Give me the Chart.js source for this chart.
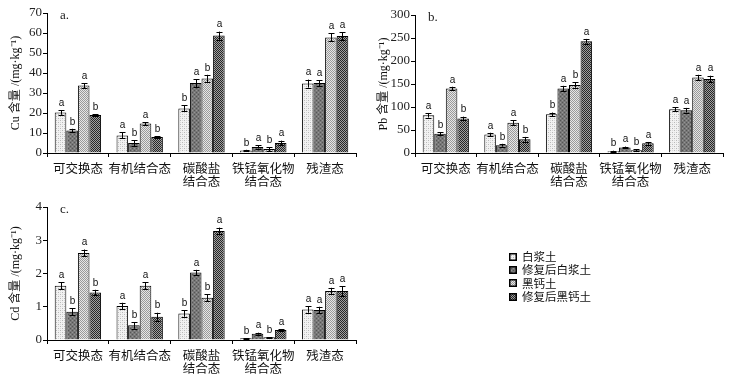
<!DOCTYPE html>
<html><head><meta charset="utf-8">
<script src="https://cdn.jsdelivr.net/npm/chart.js@4.4.1/dist/chart.umd.min.js"></script>
<style>
body{margin:0;background:#fff;width:739px;height:379px;position:relative;overflow:hidden}
canvas.p{position:absolute}
#legend{position:absolute;left:509px;top:250px;font:11.5px "Noto Sans CJK SC";color:#111;line-height:13.3px}
#legend div{display:flex;align-items:center;height:13.3px}
#legend canvas{width:8px;height:8px;margin-right:5px}
</style></head><body>
<canvas class="p" id="ca" width="362" height="190" style="left:0;top:0"></canvas>
<canvas class="p" id="cb" width="362" height="190" style="left:368px;top:0"></canvas>
<canvas class="p" id="cc" width="362" height="189" style="left:0;top:190px"></canvas>
<div id="legend"></div>
<script>
// ---- data ----
const categories = ['可交换态', '有机结合态', ['碳酸盐', '结合态'], ['铁锰氧化物', '结合态'], '残渣态'];
const seriesNames = ['白浆土', '修复后白浆土', '黑钙土', '修复后黑钙土'];

const cuValues = [
  [20.3, 8.8, 22.3, 1.3, 34.7],
  [11.3, 5.0, 35.0, 3.0, 35.0],
  [33.7, 14.7, 37.3, 2.0, 57.8],
  [19.0, 8.0, 58.7, 5.0, 58.5]
];
const cuErrors = [
  [1.2, 1.5, 1.5, 0.3, 2.0],
  [0.8, 1.5, 2.0, 0.8, 1.5],
  [1.2, 0.8, 1.8, 1.0, 2.0],
  [0.5, 0.4, 2.0, 1.2, 2.0]
];
const pbValues = [
  [82, 40, 84, 4, 95],
  [42, 17, 140, 12, 93],
  [140, 66, 148, 6, 164],
  [75, 30, 243, 21, 161]
];
const pbErrors = [
  [5, 4, 4, 1, 4],
  [3, 3, 6, 2, 5],
  [4, 5, 6, 2, 6],
  [4, 5, 5, 3, 7]
];
const cdValues = [
  [1.63, 1.02, 0.80, 0.05, 0.92],
  [0.85, 0.44, 2.03, 0.19, 0.90],
  [2.62, 1.63, 1.27, 0.08, 1.47],
  [1.43, 0.70, 3.28, 0.30, 1.47]
];
const cdErrors = [
  [0.10, 0.10, 0.10, 0.01, 0.10],
  [0.10, 0.10, 0.08, 0.03, 0.10],
  [0.10, 0.10, 0.10, 0.01, 0.10],
  [0.08, 0.12, 0.10, 0.02, 0.15]
];
const sigLetters = [
  ['a', 'a', 'b', 'b', 'a'],
  ['b', 'b', 'a', 'a', 'a'],
  ['a', 'a', 'b', 'b', 'a'],
  ['b', 'b', 'a', 'a', 'a']
];
const cuTicks = {max: 70, step: 10};
const pbTicks = {max: 300, step: 50};
const cdTicks = {max: 4, step: 1};

// ---- patterns ----
function makePattern(draw) {
  const c = document.createElement('canvas'); c.width = 4; c.height = 4;
  const x = c.getContext('2d'); draw(x);
  return x.createPattern(c, 'repeat');
}
function px(x, col, pts){ x.fillStyle = col; pts.forEach(p => x.fillRect(p[0], p[1], 1, 1)); }
const checker = [[0,0],[1,1],[2,2],[3,3],[2,0],[0,2],[3,1],[1,3]];
const fills = [
  makePattern(x => { x.fillStyle = '#f2f2f2'; x.fillRect(0,0,4,4); px(x,'#b8b8b8',[[0,0],[2,2]]); px(x,'#d8d8d8',[[2,0],[0,2]]); }),
  makePattern(x => { x.fillStyle = '#777'; x.fillRect(0,0,4,4); px(x,'#555',[[0,0],[2,2]]); px(x,'#959595',[[2,0],[0,2]]); }),
  makePattern(x => { x.fillStyle = '#e6e6e6'; x.fillRect(0,0,4,4); px(x,'#9a9a9a',checker); }),
  makePattern(x => { x.fillStyle = '#a0a0a0'; x.fillRect(0,0,4,4); px(x,'#262626',checker); })
];

// ---- plugins ----
const errPlugin = {
  id: 'errbars',
  afterDatasetsDraw(chart) {
    const ctx = chart.ctx, y = chart.scales.y;
    ctx.save();
    chart.data.datasets.forEach((ds, di) => {
      const meta = chart.getDatasetMeta(di);
      meta.data.forEach((bar, i) => {
        const v = ds.data[i], e = ds.errors[i];
        const yt = y.getPixelForValue(v + e), yb = y.getPixelForValue(Math.max(0, v - e));
        const xc = Math.round(bar.x) + 0.5;
        ctx.strokeStyle = '#000'; ctx.lineWidth = 1;
        ctx.beginPath();
        ctx.moveTo(xc, yt); ctx.lineTo(xc, yb);
        ctx.moveTo(xc - 3, Math.round(yt) + 0.5); ctx.lineTo(xc + 3, Math.round(yt) + 0.5);
        ctx.moveTo(xc - 3, Math.round(yb) + 0.5); ctx.lineTo(xc + 3, Math.round(yb) + 0.5);
        ctx.stroke();
        ctx.fillStyle = '#111';
        ctx.font = '10px "Liberation Sans"';
        ctx.textAlign = 'center'; ctx.textBaseline = 'bottom';
        ctx.fillText(ds.letters[i], xc, yt - 2);
      });
    });
    ctx.restore();
  }
};
const labelPlugin = {
  id: 'panelLabel',
  afterDraw(chart, args, opts) {
    const ctx = chart.ctx, a = chart.chartArea;
    ctx.save();
    ctx.fillStyle = '#222';
    ctx.font = '13px "Liberation Serif"';
    ctx.textAlign = 'left'; ctx.textBaseline = 'middle';
    ctx.fillText(opts.panel, a.left + opts.dx, a.top + opts.dy);
    ctx.restore();
  }
};

function buildChart(id, values, errors, ticks, panel, title, pad, xh) {
  const datasets = seriesNames.map((n, si) => ({
    label: n,
    data: values[si],
    errors: errors[si],
    letters: sigLetters[si],
    backgroundColor: fills[si],
    borderColor: '#000',
    borderWidth: 1,
    categoryPercentage: 0.75,
    barPercentage: 1.0
  }));
  return new Chart(document.getElementById(id), {
    type: 'bar',
    data: {labels: categories, datasets},
    options: {
      responsive: false,
      animation: false,
      layout: {padding: pad},
      plugins: {
        legend: {display: false},
        tooltip: {enabled: false},
        panelLabel: {panel, dx: 13, dy: 3}
      },
      scales: {
        x: {
          grid: {display: true, drawOnChartArea: false, offset: true, tickLength: 4, color: '#000'},
          border: {display: true, color: '#000', width: 1},
          ticks: {color: '#111', padding: 4, maxRotation: 0, autoSkip: false,
                  font: {family: '"Noto Sans CJK SC"', size: 12.5, lineHeight: 1.1}},
          afterFit(s) { s.height = xh; }
        },
        y: {
          min: 0, max: ticks.max,
          title: {display: true, text: title, color: '#111', padding: {top: 9, bottom: 0},
                  font: {family: '"Liberation Serif", "Noto Sans CJK SC"', size: 12, lineHeight: 1.2}},
          grid: {display: true, drawOnChartArea: false, tickLength: 4, color: '#000'},
          border: {display: true, color: '#000', width: 1},
          ticks: {stepSize: ticks.step, color: '#222', padding: 1,
                  font: {family: '"Liberation Serif"', size: 13}},
          afterFit(s) { s.width = 47; }
        }
      }
    },
    plugins: [errPlugin, labelPlugin]
  });
}

buildChart('ca', cuValues, cuErrors, cuTicks, 'a.', 'Cu 含量 /(mg·kg⁻¹)', {left: 0, right: 6, top: 13, bottom: 0}, 37);
buildChart('cb', pbValues, pbErrors, pbTicks, 'b.', 'Pb 含量 /(mg·kg⁻¹)', {left: 0, right: 7, top: 15, bottom: 0}, 37);
buildChart('cc', cdValues, cdErrors, cdTicks, 'c.', 'Cd 含量 /(mg·kg⁻¹)', {left: 0, right: 6, top: 17, bottom: 0}, 39);

// ---- legend ----
const lg = document.getElementById('legend');
seriesNames.forEach((n, i) => {
  const row = document.createElement('div');
  const c = document.createElement('canvas'); c.width = 8; c.height = 8;
  const x = c.getContext('2d');
  x.fillStyle = fills[i]; x.fillRect(0, 0, 8, 8);
  x.strokeStyle = '#000'; x.lineWidth = 1.5; x.strokeRect(0.75, 0.75, 6.5, 6.5);
  row.appendChild(c);
  row.appendChild(document.createTextNode(n));
  lg.appendChild(row);
});
</script>
</body></html>
